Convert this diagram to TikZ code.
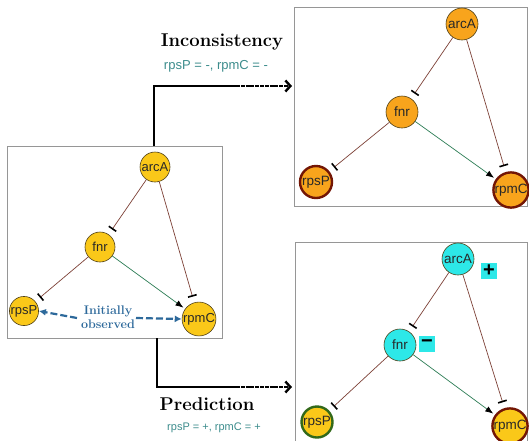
\documentclass[tikz,border=0pt]{standalone}
\usepackage{fontspec}
\newfontfamily\labelfont{Liberation Sans}
\usetikzlibrary{arrows.meta}

\definecolor{goldfill}{RGB}{250,200,25}
\definecolor{orangefill}{RGB}{248,164,28}
\definecolor{cyanfill}{RGB}{45,232,232}
\definecolor{rimdark}{RGB}{80,65,25}
\definecolor{rimred}{RGB}{115,22,5}
\definecolor{rimgreen}{RGB}{50,105,25}
\definecolor{inhcol}{RGB}{125,65,55}
\definecolor{actcol}{RGB}{45,125,85}
\definecolor{boxcol}{RGB}{150,150,150}
\definecolor{notecol}{RGB}{60,140,140}
\definecolor{obscol}{RGB}{45,105,155}
\definecolor{genetext}{RGB}{40,40,40}

\tikzset{
  gene/.style={circle, draw=rimdark, fill=goldfill, line width=0.6pt, minimum size=30pt,
    inner sep=0pt, text=genetext, font=\labelfont\fontsize{13}{13}\selectfont},
  big/.style={minimum size=32pt, font=\labelfont\fontsize{13.5}{13.5}\selectfont},
  marked/.style={line width=2.4pt},
  inh/.style={draw=inhcol, line width=0.7pt, shorten >=6pt,
    -{Bar[width=9pt,line width=1.6pt,color=black]}},
  act/.style={draw=actcol, line width=0.7pt, shorten >=2pt,
    -{Latex[length=8pt,width=6pt,color=black]}},
  panel/.style={draw=boxcol, line width=0.8pt, fill=white, inner sep=0pt},
  flow/.style={line width=2.6pt, black},
  flowtip/.style={line width=2.4pt, black, dash pattern=on 4pt off 0.8pt,
    -{Straight Barb[length=5pt,width=11pt,line width=2.4pt]}},
  obs/.style={draw=obscol, line width=2.2pt, dash pattern=on 7pt off 3pt,
    -{Latex[length=7pt,width=7pt]}},
  sign/.style={fill=cyanfill, minimum size=16pt, inner sep=0pt,
    font=\labelfont\bfseries\fontsize{20}{20}\selectfont},
  heading/.style={font=\bfseries\fontsize{18.5}{20}\selectfont, text=black},
  note/.style={text=notecol, font=\labelfont\fontsize{13}{14}\selectfont},
}

\begin{document}
\begin{tikzpicture}[x=1pt, y=-1pt]
\useasboundingbox (0,0) rectangle (529,440);

% panels
\node[panel, minimum width=215pt, minimum height=192pt] (leftbox) at (114.5,242) {};
\node[panel, minimum width=233pt, minimum height=199pt] (topbox) at (410.5,106.5) {};
\node[panel, minimum width=232pt, minimum height=210pt] (botbox) at (411,347) {};

% initial network
\node[gene] (a1) at (155,167) {arcA};
\node[gene] (f1) at (100,247) {fnr};
\node[gene, minimum size=28pt] (p1) at (24,311) {rpsP};
\node[gene] (c1) at (199,319) {rpmC};
\draw[inh] (a1) -- (f1);
\draw[inh] (a1) -- (c1);
\draw[inh] (f1) -- (p1);
\draw[act] (f1) -- (c1);

\node[text=obscol, font=\bfseries\fontsize{12.5}{14}\selectfont, align=center]
  (obs) at (108,317) {Initially\\observed};
\coordinate (obsL) at (77,318);
\coordinate (obsR) at (136,318);
\draw[obs] (obsL) -- (p1.east);
\draw[obs] (obsR) -- (c1.west);

% inconsistent network
\node[gene, big, fill=orangefill] (a2) at (462,24) {arcA};
\node[gene, big, fill=orangefill] (f2) at (402,112) {fnr};
\node[gene, big, fill=orangefill, marked, draw=rimred] (p2) at (316,182) {rpsP};
\node[gene, big, fill=orangefill, marked, draw=rimred] (c2) at (511,190) {rpmC};
\draw[inh] (a2) -- (f2);
\draw[inh] (a2) -- (c2);
\draw[inh] (f2) -- (p2);
\draw[act] (f2) -- (c2);

% predicted network
\node[gene, big, fill=cyanfill] (a3) at (458,259) {arcA};
\node[gene, big, fill=cyanfill] (f3) at (400,345) {fnr};
\node[gene, big, marked, draw=rimgreen, minimum size=31pt] (p3) at (317,422) {rpsP};
\node[gene, big, marked, draw=rimred] (c3) at (510,426) {rpmC};
\draw[inh] (a3) -- (f3);
\draw[inh] (a3) -- (c3);
\draw[inh] (f3) -- (p3);
\draw[act] (f3) -- (c3);
\node[sign] (plus) at (489,271) {+};
\node[sign] (minus) at (427,344) {−};

% flow arrows
\coordinate (up0) at (154,146);
\coordinate (up1) at (236,86);
\coordinate (up2) at (292,86);
\draw[flow] (up0) |- (up1);
\draw[flowtip] (up1) -- (up2);
\coordinate (dn0) at (157,338);
\coordinate (dn1) at (236,387);
\coordinate (dn2) at (292,387);
\draw[flow] (dn0) |- (dn1);
\draw[flowtip] (dn1) -- (dn2);

% captions
\node[heading] (inc) at (222,42) {Inconsistency};
\node[note] (incnote) at (216,66) {rpsP = -, rpmC = -};
\node[heading] (pred) at (207,404) {Prediction};
\node[note, font=\labelfont\fontsize{11}{12}\selectfont] (prednote) at (214,428) {rpsP = +, rpmC = +};
\end{tikzpicture}
\end{document}
